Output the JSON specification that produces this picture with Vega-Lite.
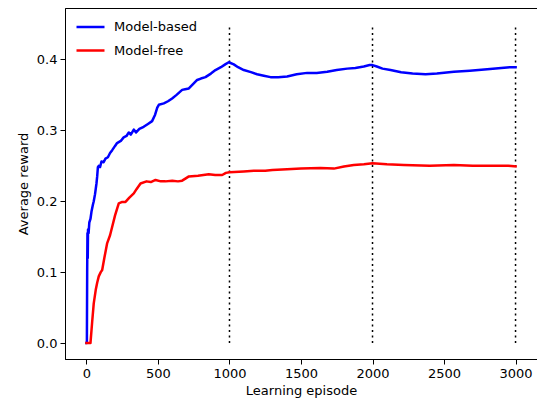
{
  "$schema": "https://vega.github.io/schema/vega-lite/v6.json",
  "width": 472,
  "height": 351,
  "autosize": "none",
  "padding": {"left": 65, "top": 8, "right": 0, "bottom": 42},
  "background": "white",
  "config": {
    "view": {"stroke": "#000", "strokeWidth": 1},
    "font": "DejaVu Sans",
    "axis": {"grid": false, "domainColor": "#000", "tickColor": "#000", "labelColor": "#000", "titleColor": "#000", "labelFontSize": 13, "titleFontSize": 13, "titleFontWeight": "normal", "tickSize": 5, "labelPadding": 3, "labelFont": "DejaVu Sans", "titleFont": "DejaVu Sans"},
    "legend": {"labelFont": "DejaVu Sans", "labelFontSize": 13, "labelColor": "#000"}
  },
  "datasets": {
    "curves": [
      {"episode": 0, "reward": 0.0, "method": "Model-based"},
      {"episode": 3, "reward": 0.0, "method": "Model-based"},
      {"episode": 5, "reward": 0.10, "method": "Model-based"},
      {"episode": 7, "reward": 0.155, "method": "Model-based"},
      {"episode": 9, "reward": 0.12, "method": "Model-based"},
      {"episode": 11, "reward": 0.16, "method": "Model-based"},
      {"episode": 15, "reward": 0.155, "method": "Model-based"},
      {"episode": 20, "reward": 0.17, "method": "Model-based"},
      {"episode": 28, "reward": 0.175, "method": "Model-based"},
      {"episode": 35, "reward": 0.185, "method": "Model-based"},
      {"episode": 45, "reward": 0.195, "method": "Model-based"},
      {"episode": 51, "reward": 0.20, "method": "Model-based"},
      {"episode": 60, "reward": 0.21, "method": "Model-based"},
      {"episode": 70, "reward": 0.225, "method": "Model-based"},
      {"episode": 75, "reward": 0.235, "method": "Model-based"},
      {"episode": 80, "reward": 0.248, "method": "Model-based"},
      {"episode": 86, "reward": 0.25, "method": "Model-based"},
      {"episode": 95, "reward": 0.248, "method": "Model-based"},
      {"episode": 105, "reward": 0.256, "method": "Model-based"},
      {"episode": 120, "reward": 0.255, "method": "Model-based"},
      {"episode": 133, "reward": 0.26, "method": "Model-based"},
      {"episode": 150, "reward": 0.262, "method": "Model-based"},
      {"episode": 165, "reward": 0.268, "method": "Model-based"},
      {"episode": 180, "reward": 0.272, "method": "Model-based"},
      {"episode": 200, "reward": 0.278, "method": "Model-based"},
      {"episode": 214, "reward": 0.282, "method": "Model-based"},
      {"episode": 240, "reward": 0.285, "method": "Model-based"},
      {"episode": 260, "reward": 0.29, "method": "Model-based"},
      {"episode": 280, "reward": 0.292, "method": "Model-based"},
      {"episode": 296, "reward": 0.297, "method": "Model-based"},
      {"episode": 310, "reward": 0.294, "method": "Model-based"},
      {"episode": 331, "reward": 0.301, "method": "Model-based"},
      {"episode": 347, "reward": 0.297, "method": "Model-based"},
      {"episode": 370, "reward": 0.302, "method": "Model-based"},
      {"episode": 400, "reward": 0.305, "method": "Model-based"},
      {"episode": 430, "reward": 0.309, "method": "Model-based"},
      {"episode": 459, "reward": 0.313, "method": "Model-based"},
      {"episode": 480, "reward": 0.322, "method": "Model-based"},
      {"episode": 495, "reward": 0.332, "method": "Model-based"},
      {"episode": 506, "reward": 0.336, "method": "Model-based"},
      {"episode": 541, "reward": 0.338, "method": "Model-based"},
      {"episode": 570, "reward": 0.341, "method": "Model-based"},
      {"episode": 599, "reward": 0.345, "method": "Model-based"},
      {"episode": 630, "reward": 0.35, "method": "Model-based"},
      {"episode": 669, "reward": 0.357, "method": "Model-based"},
      {"episode": 690, "reward": 0.358, "method": "Model-based"},
      {"episode": 716, "reward": 0.359, "method": "Model-based"},
      {"episode": 745, "reward": 0.365, "method": "Model-based"},
      {"episode": 774, "reward": 0.371, "method": "Model-based"},
      {"episode": 800, "reward": 0.373, "method": "Model-based"},
      {"episode": 832, "reward": 0.375, "method": "Model-based"},
      {"episode": 870, "reward": 0.38, "method": "Model-based"},
      {"episode": 902, "reward": 0.385, "method": "Model-based"},
      {"episode": 940, "reward": 0.389, "method": "Model-based"},
      {"episode": 970, "reward": 0.393, "method": "Model-based"},
      {"episode": 995, "reward": 0.396, "method": "Model-based"},
      {"episode": 1030, "reward": 0.393, "method": "Model-based"},
      {"episode": 1060, "reward": 0.389, "method": "Model-based"},
      {"episode": 1100, "reward": 0.385, "method": "Model-based"},
      {"episode": 1150, "reward": 0.382, "method": "Model-based"},
      {"episode": 1193, "reward": 0.379, "method": "Model-based"},
      {"episode": 1240, "reward": 0.377, "method": "Model-based"},
      {"episode": 1287, "reward": 0.375, "method": "Model-based"},
      {"episode": 1340, "reward": 0.375, "method": "Model-based"},
      {"episode": 1403, "reward": 0.376, "method": "Model-based"},
      {"episode": 1470, "reward": 0.379, "method": "Model-based"},
      {"episode": 1543, "reward": 0.381, "method": "Model-based"},
      {"episode": 1610, "reward": 0.381, "method": "Model-based"},
      {"episode": 1683, "reward": 0.3825, "method": "Model-based"},
      {"episode": 1750, "reward": 0.385, "method": "Model-based"},
      {"episode": 1823, "reward": 0.387, "method": "Model-based"},
      {"episode": 1880, "reward": 0.388, "method": "Model-based"},
      {"episode": 1939, "reward": 0.39, "method": "Model-based"},
      {"episode": 1980, "reward": 0.392, "method": "Model-based"},
      {"episode": 2000, "reward": 0.392, "method": "Model-based"},
      {"episode": 2030, "reward": 0.39, "method": "Model-based"},
      {"episode": 2070, "reward": 0.387, "method": "Model-based"},
      {"episode": 2126, "reward": 0.385, "method": "Model-based"},
      {"episode": 2200, "reward": 0.382, "method": "Model-based"},
      {"episode": 2280, "reward": 0.38, "method": "Model-based"},
      {"episode": 2371, "reward": 0.379, "method": "Model-based"},
      {"episode": 2450, "reward": 0.38, "method": "Model-based"},
      {"episode": 2569, "reward": 0.3825, "method": "Model-based"},
      {"episode": 2680, "reward": 0.384, "method": "Model-based"},
      {"episode": 2802, "reward": 0.386, "method": "Model-based"},
      {"episode": 2900, "reward": 0.388, "method": "Model-based"},
      {"episode": 2960, "reward": 0.389, "method": "Model-based"},
      {"episode": 3000, "reward": 0.389, "method": "Model-based"},
      {"episode": 0, "reward": 0.0, "method": "Model-free"},
      {"episode": 28, "reward": 0.0, "method": "Model-free"},
      {"episode": 40, "reward": 0.03, "method": "Model-free"},
      {"episode": 51, "reward": 0.056, "method": "Model-free"},
      {"episode": 65, "reward": 0.075, "method": "Model-free"},
      {"episode": 75, "reward": 0.085, "method": "Model-free"},
      {"episode": 86, "reward": 0.094, "method": "Model-free"},
      {"episode": 100, "reward": 0.1, "method": "Model-free"},
      {"episode": 110, "reward": 0.103, "method": "Model-free"},
      {"episode": 125, "reward": 0.12, "method": "Model-free"},
      {"episode": 145, "reward": 0.141, "method": "Model-free"},
      {"episode": 165, "reward": 0.152, "method": "Model-free"},
      {"episode": 180, "reward": 0.164, "method": "Model-free"},
      {"episode": 200, "reward": 0.18, "method": "Model-free"},
      {"episode": 215, "reward": 0.19, "method": "Model-free"},
      {"episode": 226, "reward": 0.197, "method": "Model-free"},
      {"episode": 250, "reward": 0.199, "method": "Model-free"},
      {"episode": 273, "reward": 0.199, "method": "Model-free"},
      {"episode": 300, "reward": 0.205, "method": "Model-free"},
      {"episode": 331, "reward": 0.211, "method": "Model-free"},
      {"episode": 350, "reward": 0.217, "method": "Model-free"},
      {"episode": 378, "reward": 0.225, "method": "Model-free"},
      {"episode": 420, "reward": 0.228, "method": "Model-free"},
      {"episode": 450, "reward": 0.227, "method": "Model-free"},
      {"episode": 483, "reward": 0.23, "method": "Model-free"},
      {"episode": 520, "reward": 0.228, "method": "Model-free"},
      {"episode": 552, "reward": 0.228, "method": "Model-free"},
      {"episode": 600, "reward": 0.229, "method": "Model-free"},
      {"episode": 640, "reward": 0.228, "method": "Model-free"},
      {"episode": 669, "reward": 0.229, "method": "Model-free"},
      {"episode": 700, "reward": 0.233, "method": "Model-free"},
      {"episode": 716, "reward": 0.235, "method": "Model-free"},
      {"episode": 780, "reward": 0.236, "method": "Model-free"},
      {"episode": 855, "reward": 0.238, "method": "Model-free"},
      {"episode": 900, "reward": 0.237, "method": "Model-free"},
      {"episode": 949, "reward": 0.237, "method": "Model-free"},
      {"episode": 975, "reward": 0.24, "method": "Model-free"},
      {"episode": 1000, "reward": 0.241, "method": "Model-free"},
      {"episode": 1100, "reward": 0.242, "method": "Model-free"},
      {"episode": 1170, "reward": 0.243, "method": "Model-free"},
      {"episode": 1250, "reward": 0.243, "method": "Model-free"},
      {"episode": 1300, "reward": 0.244, "method": "Model-free"},
      {"episode": 1403, "reward": 0.245, "method": "Model-free"},
      {"episode": 1500, "reward": 0.246, "method": "Model-free"},
      {"episode": 1636, "reward": 0.247, "method": "Model-free"},
      {"episode": 1730, "reward": 0.246, "method": "Model-free"},
      {"episode": 1800, "reward": 0.249, "method": "Model-free"},
      {"episode": 1869, "reward": 0.251, "method": "Model-free"},
      {"episode": 1940, "reward": 0.252, "method": "Model-free"},
      {"episode": 2000, "reward": 0.2535, "method": "Model-free"},
      {"episode": 2100, "reward": 0.252, "method": "Model-free"},
      {"episode": 2219, "reward": 0.251, "method": "Model-free"},
      {"episode": 2400, "reward": 0.25, "method": "Model-free"},
      {"episode": 2569, "reward": 0.251, "method": "Model-free"},
      {"episode": 2700, "reward": 0.25, "method": "Model-free"},
      {"episode": 2850, "reward": 0.25, "method": "Model-free"},
      {"episode": 2950, "reward": 0.25, "method": "Model-free"},
      {"episode": 3000, "reward": 0.249, "method": "Model-free"}
    ],
    "markers": [
      {"episode": 1000, "low": 0, "high": 0.45},
      {"episode": 2000, "low": 0, "high": 0.45},
      {"episode": 3000, "low": 0, "high": 0.45}
    ]
  },
  "layer": [
    {
      "data": {"name": "markers"},
      "mark": {"type": "rule", "color": "#000", "strokeWidth": 1.5, "strokeDash": [2, 3.5]},
      "encoding": {
        "x": {"field": "episode", "type": "quantitative", "scale": {"domain": [-150, 3150], "nice": false, "zero": false}},
        "y": {"field": "low", "type": "quantitative", "scale": {"domain": [-0.0225, 0.4725], "nice": false, "zero": false}},
        "y2": {"field": "high"}
      }
    },
    {
      "data": {"name": "curves"},
      "mark": {"type": "line", "strokeWidth": 2.5, "strokeJoin": "round", "strokeCap": "square"},
      "encoding": {
        "x": {"field": "episode", "type": "quantitative", "scale": {"domain": [-150, 3150], "nice": false, "zero": false},
              "axis": {"values": [0, 500, 1000, 1500, 2000, 2500, 3000], "format": "d", "title": "Learning episode", "titlePadding": 4}},
        "y": {"field": "reward", "type": "quantitative", "scale": {"domain": [-0.0225, 0.4725], "nice": false, "zero": false},
              "axis": {"values": [0, 0.1, 0.2, 0.3, 0.4], "format": ".1f", "title": "Average reward", "titlePadding": 6}},
        "color": {"field": "method", "type": "nominal",
                  "scale": {"domain": ["Model-based", "Model-free"], "range": ["#0000ff", "#ff0000"]},
                  "legend": {"title": null, "orient": "none", "legendX": 10, "legendY": 3.5, "symbolType": "stroke", "symbolSize": 784, "symbolStrokeWidth": 2.5, "labelOffset": 8, "rowPadding": 0.5, "padding": 0}},
        "order": {"field": "episode", "type": "quantitative"}
      }
    }
  ]
}
